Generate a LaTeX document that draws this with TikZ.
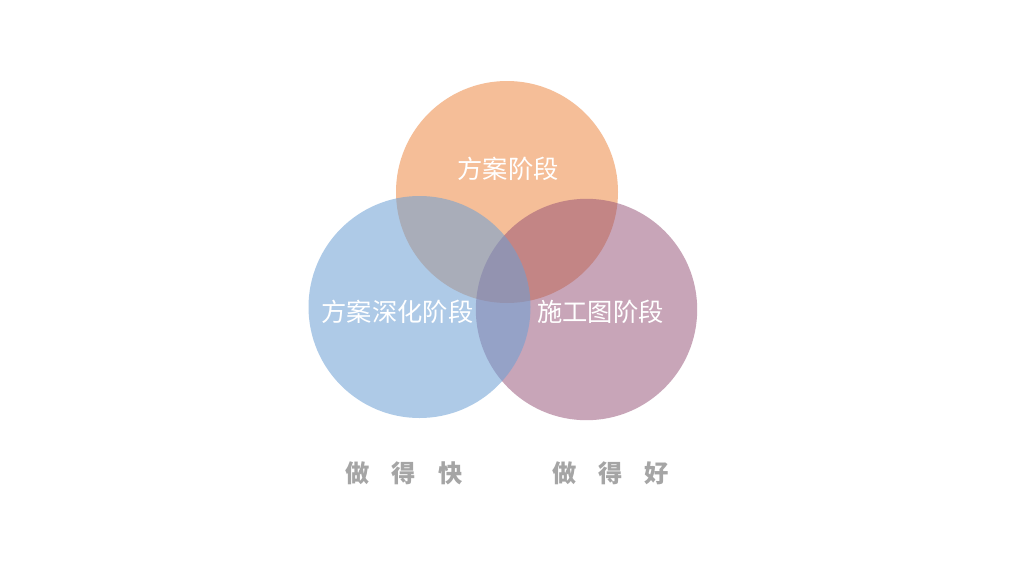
\documentclass[tikz,border=0pt]{standalone}
\usepackage{fontspec}
\newfontfamily\cjk{Noto Sans CJK SC}
\definecolor{cOrange}{RGB}{245,190,152}
\definecolor{cBlue}{RGB}{108,160,213}
\definecolor{cMauve}{RGB}{147,77,115}
\definecolor{cGray}{RGB}{165,165,165}
\tikzset{
  lbl/.style={text=white,font=\cjk\fontsize{25.3}{28}\selectfont,inner sep=0pt},
  motto/.style={text=cGray,font=\cjk\bfseries\fontsize{24.3}{27}\selectfont,inner sep=0pt}
}
\begin{document}
\begin{tikzpicture}[x=1pt,y=-1pt]
\useasboundingbox (0,0) rectangle (1024,576);
\fill[white] (0,0) rectangle (1024,576);
\fill[cOrange] (507,192) circle (111);
\fill[cMauve,opacity=0.5] (586.5,309.5) circle (110.7);
\fill[cBlue,opacity=0.55] (419.5,307) circle (111);
\node[lbl] (top) at (508,169) {方案阶段};
\node[lbl] (left) at (397.5,312) {方案深化阶段};
\node[lbl] (right) at (600.5,312) {施工图阶段};
\node[motto] (fast) at (404,473) {做\hspace{22pt}得\hspace{22pt}快};
\node[motto] (good) at (610.5,473) {做\hspace{22pt}得\hspace{22pt}好};
\end{tikzpicture}
\end{document}
